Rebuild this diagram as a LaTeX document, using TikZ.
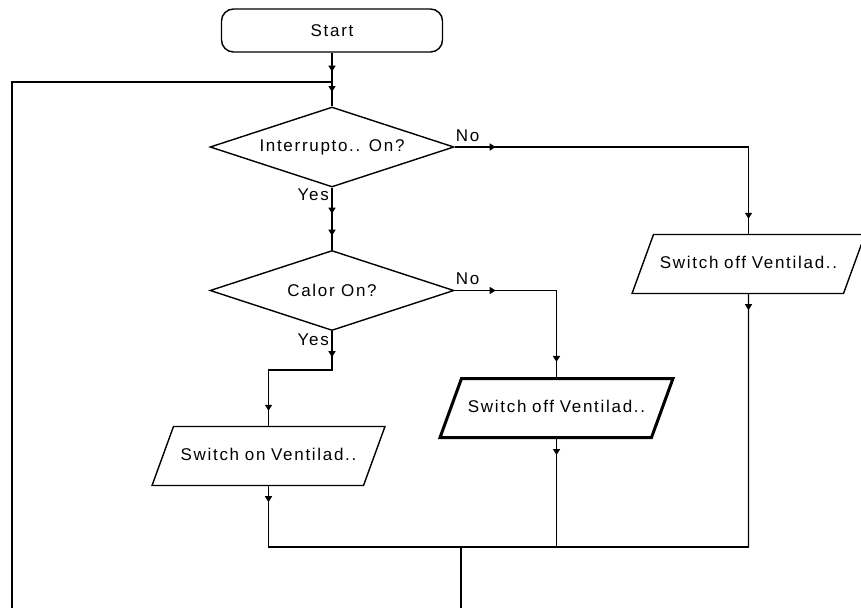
\documentclass[tikz,border=0pt]{standalone}
\usepackage{fontspec}
\setmainfont{Liberation Sans}[LetterSpace=10]
\usetikzlibrary{shapes.geometric,arrows.meta,decorations.markings}

\tikzset{
  base/.style={draw=black, line width=1.4pt, inner sep=0pt,
    font=\fontsize{17}{20}\selectfont},
  term/.style={base, rectangle, rounded corners=12pt,
    minimum width=221pt, minimum height=43pt},
  decision/.style={base, diamond, aspect=3.05,
    minimum width=244pt, minimum height=80pt},
  % parallelogram: body 190pt wide, 59pt high, sides slanted at 70 degrees
  io/.style={base, trapezium, trapezium left angle=70, trapezium right angle=110,
    text width=190pt, align=center, text height=12pt, text depth=4pt,
    inner xsep=0pt, inner ysep=21.5pt},
  iothick/.style={io, line width=3pt},
  flow/.style={draw=black, line width=1.4pt},
  tipmark/.tip={Triangle[width=7pt,length=6pt]},
  arrowat/.style={postaction={decorate},
    decoration={markings, mark=at position #1 with {\arrow{tipmark}}}},
  arrowsat/.style 2 args={postaction={decorate},
    decoration={markings,
      mark=at position #1 with {\arrow{tipmark}},
      mark=at position #2 with {\arrow{tipmark}}}},
  lbl/.style={inner sep=0pt, font=\fontsize{17}{20}\selectfont}
}

\begin{document}
\begin{tikzpicture}[x=1pt, y=-1pt]
  \useasboundingbox (0,0) rectangle (861,608);

  % shapes
  \node[term]     (start) at (332,30.5)   {Start};
  \node[decision] (d1)    at (332,147)    {Interrupto.. On?};
  \node[decision] (d2)    at (332,290.5)  {Calor On?};
  \node[io]       (p1)    at (268.5,456)  {Switch on Ventilad..};
  \node[iothick]  (p2)    at (556.5,408)  {Switch off Ventilad..};
  \node[io]       (p3)    at (748.5,264)  {Switch off Ventilad..};

  % junction points
  \coordinate (j0)    at (332,82);
  \coordinate (yes2)  at (332,370);
  \coordinate (jR)    at (748.5,547);
  \coordinate (m)     at (461,547);
  \coordinate (mout)  at (461,608);
  \coordinate (loopL) at (12,608);

  % main line
  \draw[flow, arrowat=19pt] (start.south) -- (j0);
  \draw[flow, arrowat=10pt] (j0) -- (d1.north);
  \draw[flow, arrowsat={26pt}{48pt}] (d1.south) -- (d2.north);

  % branches
  \draw[flow, arrowsat={41pt}{-15pt}] (d1.east) -| (p3.north);
  \draw[flow, arrowsat={41pt}{-15pt}] (d2.east) -| (p2.north);
  \draw[flow, arrowsat={26pt}{-15pt}] (d2.south) -- (yes2) -| (p1.north);

  % merge
  \draw[flow, arrowat=16pt] (p1.south) |- (jR);
  \draw[flow, arrowat=16pt] (p2.south) -- (p2.south |- jR);
  \draw[flow, arrowat=16pt] (p3.south) -- (jR);
  \draw[flow] (m) -- (mout);

  % loop back
  \draw[flow] (j0) -| (loopL);

  % branch labels
  \node[lbl, anchor=base west] at ([shift={(1,-6)}]d1.east) {No};
  \node[lbl, anchor=base west] at ([shift={(1,-6)}]d2.east) {No};
  \node[lbl, anchor=base east] at ([shift={(-3,13)}]d1.south) {Yes};
  \node[lbl, anchor=base east] at ([shift={(-3,14)}]d2.south) {Yes};
\end{tikzpicture}
\end{document}
